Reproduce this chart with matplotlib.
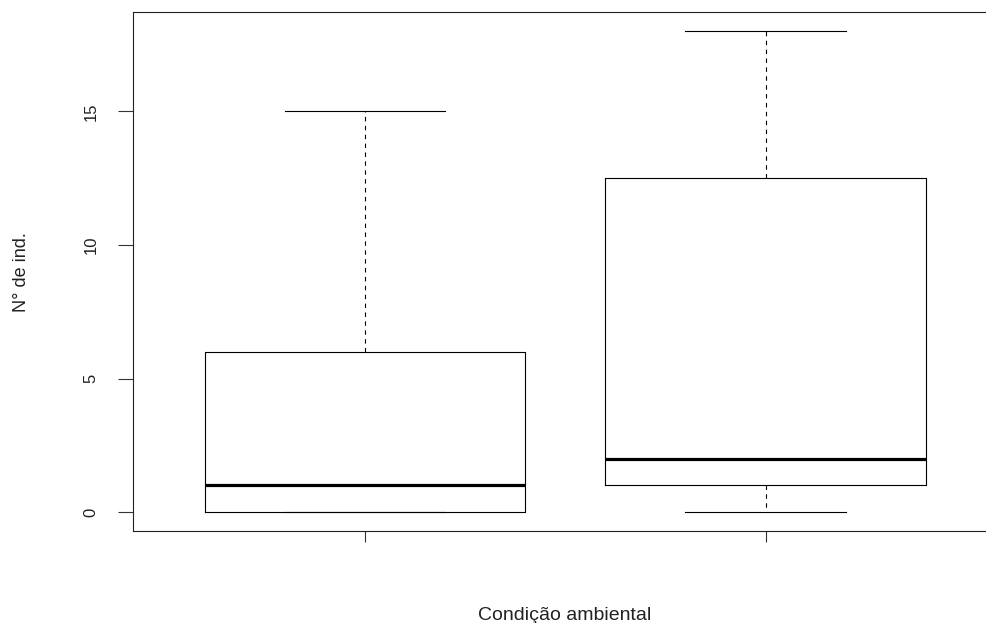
import matplotlib
matplotlib.use("Agg")
import matplotlib.pyplot as plt

# five-number summaries
positions = [1, 2]
whis_lo = [0, 0]
q1 = [0, 1]
medians = [1, 2]
q3 = [6, 12.5]
whis_hi = [15, 18]

y_ticks = [0, 5, 10, 15]

plt.rcParams['font.family'] = ['Liberation Sans', 'DejaVu Sans']

stats = []
for i in range(len(positions)):
    stats.append({'whislo': whis_lo[i], 'q1': q1[i], 'med': medians[i],
                  'q3': q3[i], 'whishi': whis_hi[i], 'fliers': []})

fig = plt.figure(figsize=(9.87, 6.23), dpi=100)
ax = fig.add_axes([133 / 987, (623 - 531.3) / 623, 864.7 / 987, 519.3 / 623])

ax.bxp(stats, positions=positions, widths=0.8, showfliers=False,
       boxprops=dict(color='black', linewidth=0.8),
       whiskerprops=dict(color='black', linewidth=0.8, linestyle=(0, (4, 4))),
       capprops=dict(color='black', linewidth=0.8),
       medianprops=dict(color='black', linewidth=2.3))

ax.set_xlim(0.42, 2.58)
ax.set_ylim(-0.72, 18.72)
ax.set_xticks(positions)
ax.set_xticklabels([])
ax.set_yticks(y_ticks)
ax.set_yticklabels([str(t) for t in y_ticks], fontsize=12, color='#222222')
plt.setp(ax.get_yticklabels(), rotation=90, va='center')
ax.tick_params(axis='y', length=10.8, width=0.8, pad=14, color='#333333')
ax.tick_params(axis='x', length=8, width=0.8, color='#333333')
ax.spines['right'].set_visible(False)
for s in ['left', 'bottom', 'top']:
    ax.spines[s].set_linewidth(0.8)
    ax.spines[s].set_color('#222222')

fig.text(565 / 987, 1 - 620 / 623, 'Condição ambiental', ha='center', va='baseline',
         fontsize=14, color='#222222')
fig.text(22 / 987, 1 - 272 / 623, 'N° de ind.', ha='center', va='center',
         rotation=90, fontsize=13, color='#222222')

fig.savefig('out.png', dpi=100)
